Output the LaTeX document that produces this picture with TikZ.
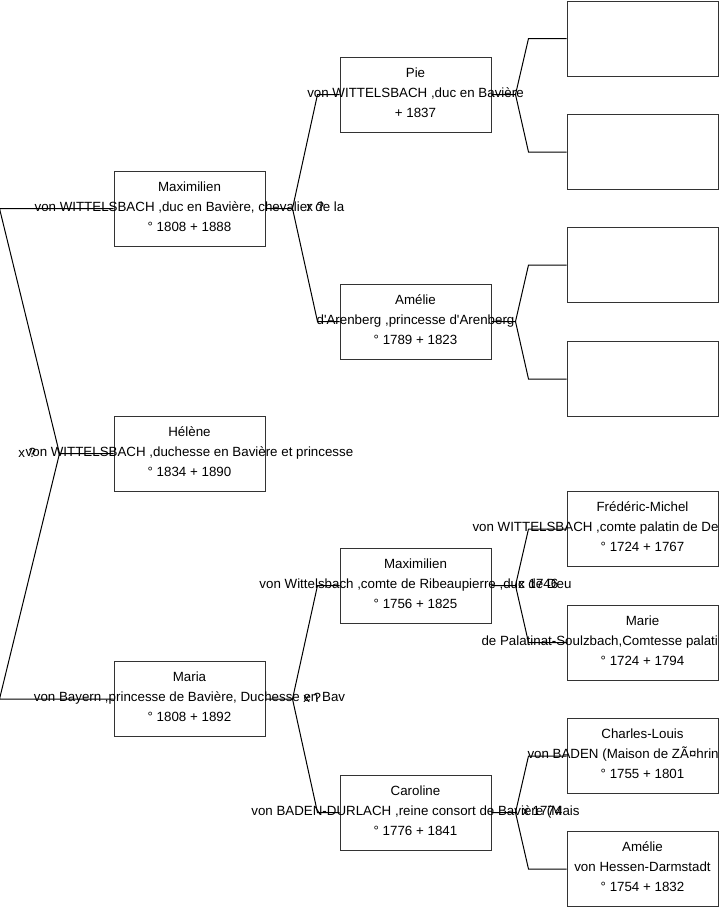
\documentclass[tikz,border=0pt]{standalone}
\usepackage{fontspec}
\setmainfont{Liberation Sans}[Ligatures=TeXOff]
\usetikzlibrary{positioning, calc}

\begin{document}
\begin{tikzpicture}[
    x=0.75pt, y=-0.75pt,
    person/.style={draw=black!80, line width=0.75pt, rectangle, minimum width=113.25pt, minimum height=56.25pt, inner sep=0pt},
    info/.style={align=center, inner sep=0pt, yshift=1.5pt, font=\fontsize{10pt}{15pt}\selectfont},
    link/.style={line width=0.75pt},
    wed/.style={anchor=west, inner sep=0pt, font=\fontsize{10pt}{15pt}\selectfont},
]
\useasboundingbox (0,0) rectangle (719,908);

% Generation 1
\node[person] (hel) at (189.5,453.5) {};
\node[person] (maxA) at (189.5,208.5) {};
\node[person] (mar) at (189.5,699) {};
% Generation 2
\node[person] (pie) at (415.5,94.5) {};
\node[person] (ameA) at (415.5,321.5) {};
\node[person] (maxB) at (415.5,585.5) {};
\node[person] (car) at (415.5,812.5) {};
% Generation 3
\node[person] (pieF) at (642.5,38.5) {};
\node[person] (pieM) at (642.5,152) {};
\node[person] (ameF) at (642.5,265) {};
\node[person] (ameM) at (642.5,379) {};
\node[person] (fre) at (642.5,529) {};
\node[person] (marie) at (642.5,642.5) {};
\node[person] (cha) at (642.5,756) {};
\node[person] (ameB) at (642.5,869) {};

% Texts
\node[info] at (hel) {Hélène\\von WITTELSBACH ,duchesse en Bavière et princesse\\° 1834 + 1890};
\node[info] at (maxA) {Maximilien\\von WITTELSBACH ,duc en Bavière, chevalier de la\\° 1808 + 1888};
\node[info] at (mar) {Maria\\von Bayern ,princesse de Bavière, Duchesse en Bav\\° 1808 + 1892};
\node[info] at (pie) {Pie\\von WITTELSBACH ,duc en Bavière\\+ 1837};
\node[info] at (ameA) {Amélie\\d'Arenberg ,princesse d'Arenberg\\° 1789 + 1823};
\node[info] at (maxB) {Maximilien\\von Wittelsbach ,comte de Ribeaupierre ,duc de Deu\\° 1756 + 1825};
\node[info] at (car) {Caroline\\von BADEN-DURLACH ,reine consort de Bavière (Mais\\° 1776 + 1841};
\node[info] at (fre) {Frédéric-Michel\\\makebox[255pt][l]{von WITTELSBACH ,comte palatin de De}\\° 1724 + 1767};
\node[info] at (marie) {Marie\\\makebox[241.5pt][l]{de Palatinat-Soulzbach,Comtesse palati}\\° 1724 + 1794};
\node[info] at (cha) {Charles-Louis\\\makebox[172.5pt][l]{von BADEN (Maison de ZÃ¤hrin}\\° 1755 + 1801};
\node[info] at (ameB) {Amélie\\von Hessen-Darmstadt\\° 1754 + 1832};

% Hélène's parents
\draw[link] (hel.west) -- ++(-54,0) coordinate (vhel) -- ($(maxA.west)+(-114,0)$) -- (maxA.west);
\draw[link] (vhel) -- ($(mar.west)+(-114,0)$) -- (mar.west);
% Generation 1 to 2
\draw[link] (maxA.east) -- ++(27,0) coordinate (vmaxA) -- ($(pie.west)+(-22,0)$) -- (pie.west);
\draw[link] (vmaxA) -- ($(ameA.west)+(-22,0)$) -- (ameA.west);
\draw[link] (mar.east) -- ++(27,0) coordinate (vmar) -- ($(maxB.west)+(-22,0)$) -- (maxB.west);
\draw[link] (vmar) -- ($(car.west)+(-22,0)$) -- (car.west);
% Generation 2 to 3
\draw[link] (pie.east) -- ++(24,0) coordinate (vpie) -- ($(pieF.west)+(-38,0)$) -- (pieF.west);
\draw[link] (vpie) -- ($(pieM.west)+(-38,0)$) -- (pieM.west);
\draw[link] (ameA.east) -- ++(24,0) coordinate (vameA) -- ($(ameF.west)+(-38,0)$) -- (ameF.west);
\draw[link] (vameA) -- ($(ameM.west)+(-38,0)$) -- (ameM.west);
\draw[link] (maxB.east) -- ++(24,0) coordinate (vmaxB) -- ($(fre.west)+(-38,0)$) -- (fre.west);
\draw[link] (vmaxB) -- ($(marie.west)+(-38,0)$) -- (marie.west);
\draw[link] (car.east) -- ++(24,0) coordinate (vcar) -- ($(cha.west)+(-38,0)$) -- (cha.west);
\draw[link] (vcar) -- ($(ameB.west)+(-38,0)$) -- (ameB.west);

% Marriages
\node[wed] at (18,452.5) {x ?};
\node[wed] at (306,207) {x ?};
\node[wed] at (303,697.5) {x ?};
\node[wed] at (518,584) {x 1746};
\node[wed] at (522,811) {x 1774};
\end{tikzpicture}
\end{document}
